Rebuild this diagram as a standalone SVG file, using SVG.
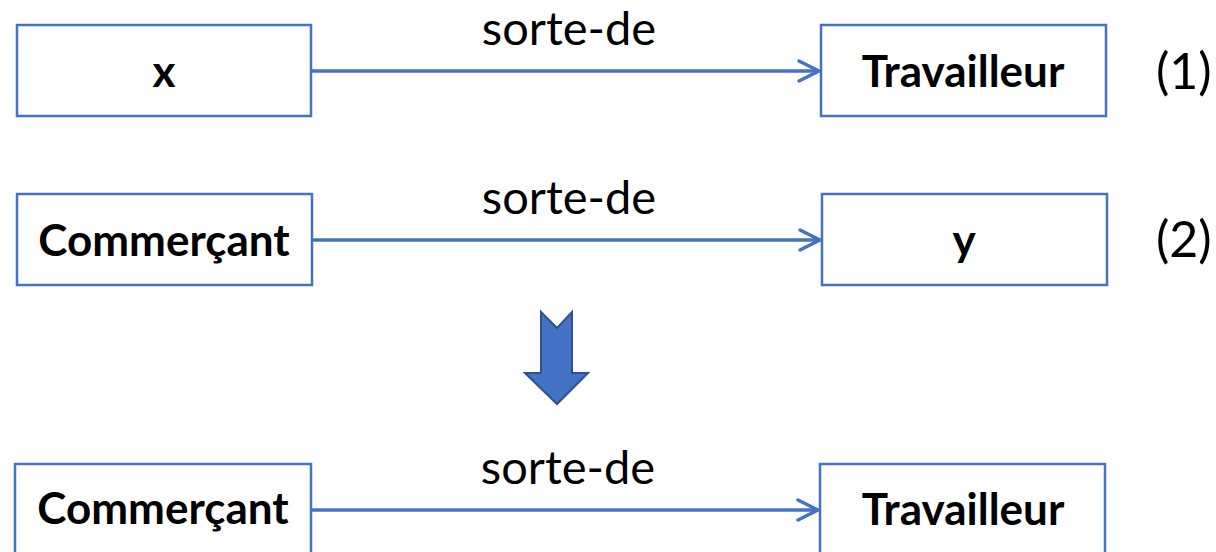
<svg xmlns="http://www.w3.org/2000/svg" width="1216" height="552" viewBox="0 0 1216 552">
  <style>
    .box { fill: #ffffff; stroke: #4472C4; stroke-width: 2.5; }
    .lbl { font-family: Lato, "Open Sans", "Liberation Sans", sans-serif; font-weight: bold; font-size: 44px; fill: #000000; text-anchor: middle; }
    .rel { font-family: Lato, "Open Sans", "Liberation Sans", sans-serif; font-size: 47px; fill: #000000; text-anchor: middle; }
    .num { font-family: Lato, "Open Sans", "Liberation Sans", sans-serif; font-size: 50px; fill: #000000; }
    .link { fill: none; stroke: #4472C4; stroke-width: 3.5; }
    .head { fill: none; stroke: #4472C4; stroke-width: 3.5; stroke-linecap: round; stroke-linejoin: round; }
  </style>

  <!-- row 1: x sorte-de Travailleur -->
  <g id="node-x">
    <rect class="box" x="17" y="25" width="294" height="91"/>
    <text class="lbl" x="164" y="87">x</text>
  </g>
  <g id="node-travailleur-1">
    <rect class="box" x="821" y="25" width="285" height="91"/>
    <text class="lbl" x="963" y="87">Travailleur</text>
  </g>
  <text class="num" x="1156" y="89">(1)</text>

  <!-- row 2: Commerçant sorte-de y -->
  <g id="node-commercant-2">
    <rect class="box" x="17" y="194" width="295" height="91"/>
    <text class="lbl" x="164" y="256">Commerçant</text>
  </g>
  <g id="node-y">
    <rect class="box" x="822" y="194" width="285" height="91"/>
    <text class="lbl" x="964" y="256">y</text>
  </g>
  <text class="num" x="1156" y="257">(2)</text>

  <!-- inference arrow -->
  <g id="deduction">
    <path d="M541,312 L557,328 L572,312 L572,373 L588,373 L557,404 L525,373 L541,373 Z" fill="#4472C4" stroke="#2F528F" stroke-width="2"/>
  </g>

  <!-- row 3: Commerçant sorte-de Travailleur -->
  <g id="node-commercant-3">
    <rect class="box" x="15" y="464" width="296" height="100"/>
    <text class="lbl" x="163" y="524">Commerçant</text>
  </g>
  <g id="node-travailleur-3">
    <rect class="box" x="820" y="464" width="285" height="100"/>
    <text class="lbl" x="963" y="525">Travailleur</text>
  </g>

  <g id="connectors">
    <line class="link" x1="312" y1="71" x2="818" y2="71"/>
    <polyline class="head" points="799,61 819,71 799,81"/>
    <text class="rel" x="569" y="45">sorte-de</text>

    <line class="link" x1="313" y1="240" x2="819" y2="240"/>
    <polyline class="head" points="800,230 820,240 800,250"/>
    <text class="rel" x="569" y="214">sorte-de</text>

    <line class="link" x1="312" y1="510" x2="818" y2="510"/>
    <polyline class="head" points="798,500 818,510 798,520"/>
    <text class="rel" x="568" y="484">sorte-de</text>
  </g>
</svg>
